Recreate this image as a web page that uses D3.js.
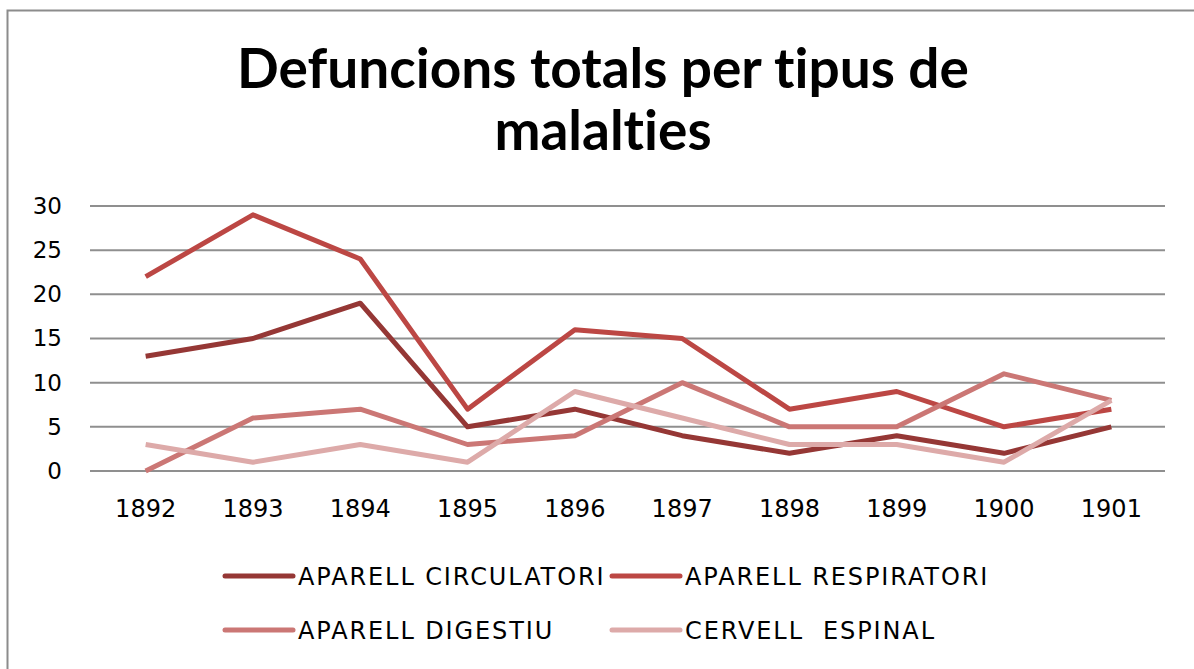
<!DOCTYPE html>
<html>
<head>
<meta charset="utf-8">
<script src="https://cdn.jsdelivr.net/npm/d3@7"></script>
<style>
  html, body { margin: 0; padding: 0; background: #fff; }
  svg { display: block; }
</style>
</head>
<body>
<div id="chart"></div>
<script>
// data
const years = ["1892", "1893", "1894", "1895", "1896", "1897", "1898", "1899", "1900", "1901"];
const circulatori = [13, 15, 19, 5, 7, 4, 2, 4, 2, 5];
const respiratori = [22, 29, 24, 7, 16, 15, 7, 9, 5, 7];
const digestiu = [0, 6, 7, 3, 4, 10, 5, 5, 11, 8];
const cervell = [3, 1, 3, 1, 9, 6, 3, 3, 1, 8];
const seriesNames = ["APARELL CIRCULATORI", "APARELL RESPIRATORI", "APARELL DIGESTIU", "CERVELL  ESPINAL"];
const yTicks = [0, 5, 10, 15, 20, 25, 30];
const titleLines = ["Defuncions totals per tipus de", "malalties"];

const colors = ["#953735", "#BC4744", "#CB7775", "#DDAAA9"];
const allSeries = [circulatori, respiratori, digestiu, cervell];

const width = 1194, height = 669;
const margin = { left: 92, right: 29, top: 206, bottom: 198 };

const svg = d3.select("#chart").append("svg")
    .attr("width", width)
    .attr("height", height);

// chart frame
svg.append("rect")
    .attr("x", 7.5).attr("y", 10.5)
    .attr("width", 1300).attr("height", 800)
    .attr("fill", "#fff")
    .attr("stroke", "#8c8c8c")
    .attr("stroke-width", 2);

// title
const title = svg.append("text")
    .attr("text-anchor", "middle")
    .attr("font-family", "Lato, 'Open Sans', sans-serif")
    .attr("font-weight", "bold")
    .attr("font-size", "55px")
    .attr("fill", "#000")
    .style("font-variant-ligatures", "none");
title.selectAll("tspan")
    .data(titleLines)
    .join("tspan")
    .attr("x", 603)
    .attr("y", (d, i) => 88 + i * 62)
    .text(d => d);

const x = d3.scaleBand()
    .domain(years)
    .range([margin.left, width - margin.right]);

const y = d3.scaleLinear()
    .domain([0, 30])
    .range([height - margin.bottom, margin.top]);

// gridlines
svg.append("g")
    .selectAll("line")
    .data(yTicks)
    .join("line")
    .attr("x1", x.range()[0] - 2)
    .attr("x2", x.range()[1])
    .attr("y1", d => y(d))
    .attr("y2", d => y(d))
    .attr("stroke", "#8f8f8f")
    .attr("stroke-width", 2);

// y axis labels
const yAxis = svg.append("g")
    .attr("transform", `translate(${margin.left - 28},0)`)
    .call(d3.axisLeft(y).tickValues(yTicks).tickSize(0).tickPadding(2));
yAxis.select(".domain").remove();
yAxis.selectAll("text")
    .attr("font-family", "'DejaVu Sans', Verdana, sans-serif")
    .attr("font-size", "23px")
    .attr("fill", "#000");

// x axis labels
const xAxis = svg.append("g")
    .attr("transform", `translate(0,${height - margin.bottom + 29})`)
    .call(d3.axisBottom(x).tickSize(0).tickPadding(0));
xAxis.select(".domain").remove();
xAxis.selectAll("text")
    .attr("font-family", "'DejaVu Sans', Verdana, sans-serif")
    .attr("font-size", "24px")
    .attr("fill", "#000");

// lines
const line = d3.line()
    .x((d, i) => x(years[i]) + x.bandwidth() / 2)
    .y(d => y(d));

svg.append("g")
    .selectAll("path")
    .data(allSeries)
    .join("path")
    .attr("d", d => line(d))
    .attr("fill", "none")
    .attr("stroke", (d, i) => colors[i])
    .attr("stroke-width", 5)
    .attr("stroke-linejoin", "round");

// legend
const legendPos = [[225, 576], [612, 576], [225, 630], [612, 630]];
const legend = svg.append("g")
    .selectAll("g")
    .data(seriesNames)
    .join("g")
    .attr("transform", (d, i) => `translate(${legendPos[i][0]},${legendPos[i][1]})`);
legend.append("line")
    .attr("x1", 0).attr("x2", 68)
    .attr("stroke", (d, i) => colors[i])
    .attr("stroke-width", 5)
    .attr("stroke-linecap", "round");
legend.append("text")
    .attr("x", 73)
    .attr("dy", "0.36em")
    .attr("font-family", "'DejaVu Sans', sans-serif")
    .attr("font-size", "24px")
    .attr("letter-spacing", "1.9px")
    .attr("fill", "#000")
    .style("white-space", "pre")
    .text(d => d);
</script>
</body>
</html>
